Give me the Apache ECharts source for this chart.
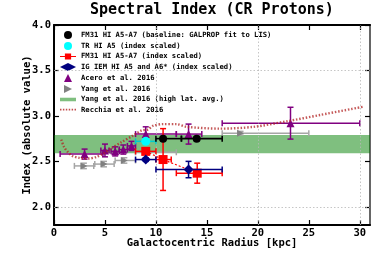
<!DOCTYPE html>
<html><head><meta charset="utf-8">
<script src="https://cdn.jsdelivr.net/npm/echarts@6/dist/echarts.min.js"></script>
<style>html,body{margin:0;padding:0;background:#fff}#c{width:374px;height:254px}</style>
</head><body><div id="c"></div>
<script>
// ---- data ----
const xTicks = [0, 5, 10, 15, 20, 25, 30];
const yTicks = [2.0, 2.5, 3.0, 3.5, 4.0];
const gridX = [10, 20, 30];
const gridY = [2.0, 3.5];

// FM31 HI A5-A7 (baseline)
const baseR = [10.7, 14.0];
const baseIdx = [2.75, 2.75];
const baseRLo = [10.0, 12.5];
const baseRHi = [12.5, 16.5];
const baseErr = [0.02, 0.02];

// TR HI A5 (index scaled)
const trR = [9.0];
const trIdx = [2.72];
const trRLo = [8.0];
const trRHi = [10.0];
const trErr = [0.02];

// FM31 HI A5-A7 (index scaled)
const fmR = [9.0, 10.7, 14.05];
const fmIdx = [2.61, 2.52, 2.37];
const fmRLo = [8.0, 10.0, 12.0];
const fmRHi = [10.0, 11.5, 16.5];
const fmErr = [0.02, 0.34, 0.11];

// IG IEM HI A5 and A6*
const igR = [9.0, 13.2];
const igIdx = [2.52, 2.41];
const igRLo = [8.0, 10.0];
const igRHi = [10.0, 16.5];
const igErr = [0.02, 0.09];

// Acero et al. 2016
const acR = [3.0, 5.0, 6.0, 6.8, 7.6, 9.0, 13.2, 23.2];
const acIdx = [2.58, 2.62, 2.61, 2.63, 2.67, 2.80, 2.80, 2.92];
const acRLo = [0.6, 4.6, 5.6, 6.4, 7.2, 8.0, 12.0, 16.5];
const acRHi = [4.8, 5.4, 6.4, 7.2, 8.0, 12.0, 14.5, 30.0];
const acErr = [0.055, 0.07, 0.05, 0.05, 0.05, 0.08, 0.11, 0.175];

// Yang et al. 2016
const yaR = [2.93, 4.9, 6.9, 9.0, 18.3];
const yaIdx = [2.45, 2.47, 2.51, 2.60, 2.81];
const yaRLo = [2.0, 4.0, 6.0, 8.0, 16.5];
const yaRHi = [3.9, 5.9, 8.0, 12.0, 25.0];
const yaErr = [0.03, 0.03, 0.03, 0.02, 0.02];

// Yang et al. 2016 (high lat. avg.) band
const bandR = [0, 31];
const bandIdx = [2.59, 2.79];

// Recchia et al. 2016
const reR = [0.71, 0.98, 1.3, 1.79, 2.44, 3.3, 4.2, 4.9, 5.7, 6.6, 7.7, 8.6, 9.2, 9.7, 10.7, 12.0, 13.0, 16.3, 19.6, 22.8, 26.1, 30.3];
const reIdx = [2.74, 2.66, 2.61, 2.56, 2.54, 2.53, 2.55, 2.59, 2.65, 2.71, 2.78, 2.84, 2.85, 2.89, 2.91, 2.91, 2.88, 2.86, 2.88, 2.94, 3.01, 3.10];

// ---- names ----
const N_BASE = 'FM31 HI A5-A7 (baseline: GALPROP fit to LIS)';
const N_TR = 'TR HI A5 (index scaled)';
const N_FM = 'FM31 HI A5-A7 (index scaled)';
const N_IG = 'IG IEM HI A5 and A6* (index scaled)';
const N_AC = 'Acero et al. 2016';
const N_YA = 'Yang et al. 2016';
const N_BAND = 'Yang et al. 2016 (high lat. avg.)';
const N_RE = 'Recchia et al. 2016';

const FONT = 'DejaVu Sans Mono';

function errData(R, I, lo, hi, e) {
  return R.map((r, i) => [r, I[i], lo[i], hi[i], I[i] - e[i], I[i] + e[i]]);
}
function errSeries(name, data, color, lw, z) {
  return {
    type: 'custom', name: name, z: z, silent: true,
    encode: { x: [0, 2, 3], y: [1, 4, 5] },
    itemStyle: { color: color },
    data: data,
    renderItem: function (params, api) {
      const x = api.value(0), y = api.value(1), xl = api.value(2), xh = api.value(3), yl = api.value(4), yh = api.value(5);
      const pL = api.coord([xl, y]), pR = api.coord([xh, y]);
      const pB = api.coord([x, yl]), pT = api.coord([x, yh]);
      const c = 3;
      const st = { stroke: color, lineWidth: lw, fill: null };
      const L = (x1, y1, x2, y2) => ({ type: 'line', shape: { x1: x1, y1: y1, x2: x2, y2: y2 }, style: st });
      return {
        type: 'group', children: [
          L(pL[0], pL[1], pR[0], pR[1]),
          L(pL[0], pL[1] - c, pL[0], pL[1] + c),
          L(pR[0], pR[1] - c, pR[0], pR[1] + c),
          L(pB[0], pB[1], pT[0], pT[1]),
          L(pB[0] - c, pB[1], pB[0] + c, pB[1]),
          L(pT[0] - c, pT[1], pT[0] + c, pT[1])
        ]
      };
    }
  };
}
function scat(name, R, I, symbol, size, color, z) {
  return {
    type: 'scatter', name: name, z: z, silent: true,
    symbol: symbol, symbolSize: size,
    itemStyle: { color: color, opacity: 1 },
    data: R.map((r, i) => [r, I[i]])
  };
}

const chart = echarts.init(document.getElementById('c'), null, { renderer: 'canvas' });

const axisLabelStyle = { fontFamily: FONT, fontWeight: 'bold', fontSize: 10.5, color: '#000' };

const option = {
  animation: false,
  backgroundColor: '#fff',
  title: {
    text: 'Spectral Index (CR Protons)', left: 90, top: 3, padding: 0,
    textStyle: { fontFamily: FONT, fontWeight: 'bold', fontSize: 15, color: '#000' }
  },
  grid: { left: 54, right: 4, top: 25, bottom: 29, containLabel: false, outerBoundsMode: 'none' },
  legend: {
    orient: 'vertical', left: 60, top: 31, padding: 0,
    itemWidth: 16, itemHeight: 8, itemGap: 3,
    selectedMode: false,
    textStyle: { fontFamily: FONT, fontWeight: 'bold', fontSize: 7.2, color: '#000' },
    data: [
      { name: N_BASE, icon: 'circle', itemStyle: { color: '#000' } },
      { name: N_TR, icon: 'circle', itemStyle: { color: '#00ffff' } },
      { name: N_FM, icon: 'path://M0,3.3 h18 v1.4 h-18 z M5.5,0.5 h7 v7 h-7 z', itemStyle: { color: '#ff0000' } },
      { name: N_IG, icon: 'diamond', itemStyle: { color: '#000080' } },
      { name: N_AC, icon: 'path://M3.5,0 L7,7 L0,7 Z', itemStyle: { color: '#800080' } },
      { name: N_YA, icon: 'path://M0,0 L8,4 L0,8 Z', itemStyle: { color: '#808080' } },
      { name: N_BAND, icon: 'path://M0,0 h18 v4 h-18 z', itemStyle: { color: 'rgba(0,128,0,0.5)' } },
      { name: N_RE, icon: 'path://M0,3 h1.6 v2 h-1.6 z M3.2,3 h1.6 v2 h-1.6 z M6.4,3 h1.6 v2 h-1.6 z M9.6,3 h1.6 v2 h-1.6 z M12.8,3 h1.6 v2 h-1.6 z M16,3 h1.6 v2 h-1.6 z M0,0 h0.01 v8 h-0.01 z', itemStyle: { color: 'rgba(178,34,34,0.8)' } }
    ]
  },
  xAxis: [
    {
      type: 'value', min: 0, max: 31, position: 'bottom',
      name: 'Galactocentric Radius [kpc]', nameLocation: 'middle', nameGap: 13, nameMoveOverlap: false,
      nameTextStyle: { fontFamily: FONT, fontWeight: 'bold', fontSize: 10.5, color: '#000' },
      axisLine: { show: true, onZero: false, lineStyle: { color: '#000', width: 2 } },
      axisTick: { show: true, inside: true, length: 5, customValues: xTicks, lineStyle: { color: '#000', width: 1.2 } },
      axisLabel: Object.assign({ margin: 3, customValues: xTicks }, axisLabelStyle),
      splitLine: { show: false }
    },
    {
      type: 'value', min: 0, max: 31, position: 'top',
      axisLine: { show: true, onZero: false, lineStyle: { color: '#000', width: 2 } },
      axisTick: { show: true, inside: true, length: 5, customValues: xTicks, lineStyle: { color: '#000', width: 1.2 } },
      axisLabel: { show: false },
      splitLine: { show: false }
    }
  ],
  yAxis: [
    {
      type: 'value', min: 1.8, max: 4.0, position: 'left',
      name: 'Index (absolute value)', nameLocation: 'middle', nameGap: 21, nameMoveOverlap: false,
      nameTextStyle: { fontFamily: FONT, fontWeight: 'bold', fontSize: 10.5, color: '#000' },
      axisLine: { show: true, onZero: false, lineStyle: { color: '#000', width: 2 } },
      axisTick: { show: true, inside: true, length: 5, customValues: yTicks, lineStyle: { color: '#000', width: 1.2 } },
      axisLabel: Object.assign({ margin: 3, customValues: yTicks, formatter: v => v.toFixed(1) }, axisLabelStyle),
      splitLine: { show: false }
    },
    {
      type: 'value', min: 1.8, max: 4.0, position: 'right',
      axisLine: { show: true, onZero: false, lineStyle: { color: '#666', width: 2 } },
      axisTick: { show: true, inside: true, length: 5, customValues: yTicks, lineStyle: { color: '#000', width: 1.2 } },
      axisLabel: { show: false },
      splitLine: { show: false }
    }
  ],
  series: [
    {
      type: 'custom', name: N_BAND, z: 1, silent: true,
      encode: { x: [0, 1], y: [2, 3] },
      itemStyle: { color: 'rgba(0,128,0,0.5)' },
      data: [[bandR[0], bandR[1], bandIdx[0], bandIdx[1]]],
      renderItem: function (params, api) {
        const p1 = api.coord([api.value(0), api.value(3)]);
        const p2 = api.coord([api.value(1), api.value(2)]);
        return { type: 'rect', shape: { x: p1[0], y: p1[1], width: p2[0] - p1[0], height: p2[1] - p1[1] }, style: { fill: 'rgba(0,128,0,0.5)' } };
      },
      markLine: {
        silent: true, symbol: ['none', 'none'], label: { show: false }, animation: false,
        lineStyle: { color: '#b8b8b8', type: [1.5, 2], width: 0.8 },
        data: gridX.map(v => ({ xAxis: v })).concat(gridY.map(v => ({ yAxis: v })))
      }
    },
    errSeries(N_YA, errData(yaR, yaIdx, yaRLo, yaRHi, yaErr), '#a6a6a6', 1.5, 2),
    scat(N_YA, yaR, yaIdx, 'path://M0,0 L8,4 L0,8 Z', 7, '#808080', 3),
    errSeries(N_AC, errData(acR, acIdx, acRLo, acRHi, acErr), '#800080', 1.5, 4),
    scat(N_AC, acR, acIdx, 'triangle', 8, '#800080', 5),
    {
      type: 'line', name: N_FM + ' ', z: 6, silent: true, symbol: 'none',
      lineStyle: { color: '#ff0000', width: 1.2, type: [2, 2] },
      data: fmR.map((r, i) => [r, fmIdx[i]])
    },
    errSeries(N_FM, errData(fmR, fmIdx, fmRLo, fmRHi, fmErr), '#ff0000', 1.5, 6),
    scat(N_FM, fmR, fmIdx, 'rect', 9, '#ff0000', 7),
    errSeries(N_IG, errData(igR, igIdx, igRLo, igRHi, igErr), '#000080', 1.5, 8),
    scat(N_IG, igR, igIdx, 'diamond', 10, '#000080', 9),
    errSeries(N_TR, errData(trR, trIdx, trRLo, trRHi, trErr), '#00cccc', 1.5, 10),
    scat(N_TR, trR, trIdx, 'circle', 9, '#00ffff', 11),
    errSeries(N_BASE, errData(baseR, baseIdx, baseRLo, baseRHi, baseErr), '#000', 1.6, 12),
    scat(N_BASE, baseR, baseIdx, 'circle', 8, '#000', 13),
    {
      type: 'line', name: N_RE, z: 14, silent: true, symbol: 'none', smooth: 0.3,
      itemStyle: { color: 'rgba(178,34,34,0.75)' },
      lineStyle: { color: 'rgba(178,34,34,0.75)', width: 2.4, type: [1.5, 1.8] },
      data: reR.map((r, i) => [r, reIdx[i]])
    }
  ]
};
chart.setOption(option);
</script>
</body></html>
